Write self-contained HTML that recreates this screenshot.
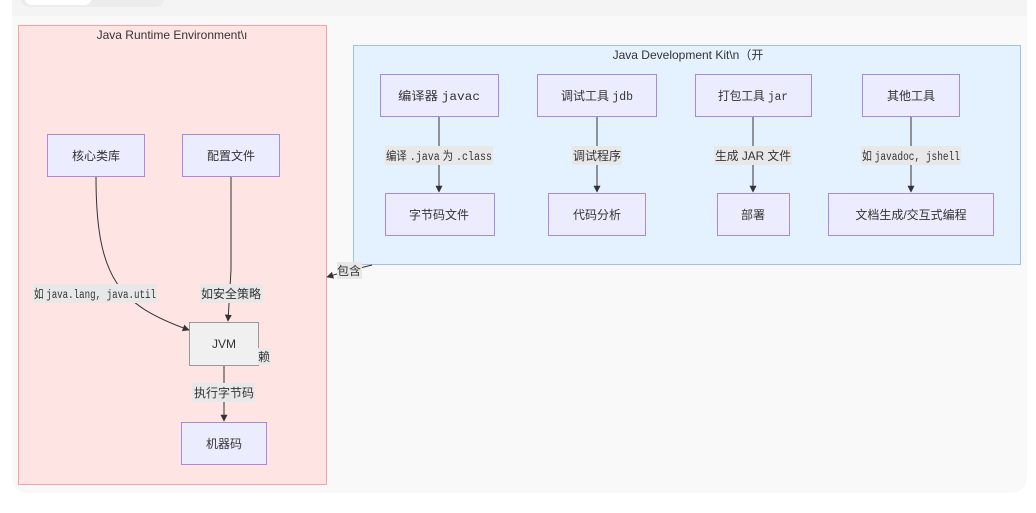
<!DOCTYPE html>
<html><head><meta charset="utf-8"><style>
html,body{margin:0;padding:0;background:#fff;width:1036px;height:513px;overflow:hidden}
svg text{font-family:"Liberation Sans","Noto Sans CJK SC",sans-serif;font-size:12px;fill:#333}
.m{font-family:"Liberation Mono","Noto Sans CJK SC",monospace;font-size:11.5px}
</style></head><body>
<svg width="1036" height="513" viewBox="0 0 1036 513" xmlns="http://www.w3.org/2000/svg">
<defs><marker id="a" viewBox="0 0 10 10" refX="9" refY="5" markerWidth="7" markerHeight="7" orient="auto"><path d="M0,0L10,5L0,10z" fill="#333"/></marker></defs>
<rect x="12" y="-20" width="1015" height="513" rx="15" fill="#f9f9f9"/>
<rect x="12" y="-20" width="1015" height="36" fill="#f4f4f4"/>
<rect x="20" y="-20" width="145" height="27" rx="10" fill="#ececec"/>
<rect x="24" y="-20" width="68" height="25" rx="8" fill="#fff"/>
<rect x="18.5" y="25.5" width="308" height="459" fill="#ffe4e4" stroke="#f9a0a0"/>
<text x="172" y="39" text-anchor="middle">Java Runtime Environment\ı</text>
<rect x="353.5" y="45.5" width="667" height="219" fill="#e4f1fe" stroke="#9cc3f0"/>
<text x="688" y="59" text-anchor="middle">Java Development Kit\n（开</text>
<g fill="#ececff" stroke="#a88be0">
<rect x="47.5" y="134.5" width="97" height="42"/>
<rect x="182.5" y="134.5" width="97" height="42"/>
<rect x="181.5" y="422.5" width="85" height="42"/>
<rect x="380.5" y="74.5" width="118" height="42"/>
<rect x="385.5" y="193.5" width="109" height="42"/>
<rect x="537.5" y="74.5" width="119" height="42"/>
<rect x="548.5" y="193.5" width="97" height="42"/>
<rect x="695.5" y="74.5" width="116" height="42"/>
<rect x="717.5" y="193.5" width="72" height="42"/>
<rect x="862.5" y="74.5" width="97" height="42"/>
<rect x="828.5" y="193.5" width="165" height="42"/>
</g>
<rect x="189.5" y="322.5" width="69" height="43" fill="#f0f0f0" stroke="#999"/>
<g stroke="#333" fill="none" stroke-width="1" marker-end="url(#a)">
<path d="M96,177 C96,280 120,305 189,330"/>
<path d="M231,177 L231,270 L228,321"/>
<path d="M224,366 L224,421"/>
<path d="M439,117 L439,192"/>
<path d="M597,117 L597,192"/>
<path d="M753,117 L753,192"/>
<path d="M911,117 L911,192"/>
<path d="M372,265 L340,273 L327,277"/>
</g>
<g fill="#e8e8e8">
<rect x="33" y="284" width="124" height="19"/>
<rect x="200" y="284" width="63" height="19"/>
<rect x="192" y="383" width="63" height="19"/>
<rect x="258" y="348" width="13" height="17"/>
<rect x="337" y="262" width="25" height="17"/>
<rect x="385" y="146" width="108" height="19"/>
<rect x="572" y="146" width="50" height="19"/>
<rect x="714" y="146" width="78" height="19"/>
<rect x="861" y="146" width="100" height="19"/>
</g>
<g text-anchor="middle">
<text x="96" y="160">核心类库</text>
<text x="231" y="160">配置文件</text>
<text x="224" y="348" fill="#555">JVM</text>
<text x="224" y="448">机器码</text>
<text x="439" y="100" textLength="82" lengthAdjust="spacingAndGlyphs">编译器 <tspan class="m">javac</tspan></text>
<text x="439" y="219">字节码文件</text>
<text x="597" y="100" textLength="72" lengthAdjust="spacingAndGlyphs">调试工具 <tspan class="m">jdb</tspan></text>
<text x="597" y="219">代码分析</text>
<text x="753" y="100" textLength="70" lengthAdjust="spacingAndGlyphs">打包工具 <tspan class="m">jar</tspan></text>
<text x="753" y="219">部署</text>
<text x="911" y="100">其他工具</text>
<text x="911" y="219">文档生成/交互式编程</text>
<text x="95" y="298" textLength="122" lengthAdjust="spacingAndGlyphs">如 <tspan class="m">java.lang, java.util</tspan></text>
<text x="231" y="298">如安全策略</text>
<text x="224" y="397">执行字节码</text>
<text x="264" y="361">赖</text>
<text x="349" y="275">包含</text>
<text x="439" y="160" textLength="106" lengthAdjust="spacingAndGlyphs">编译 <tspan class="m">.java</tspan> 为 <tspan class="m">.class</tspan></text>
<text x="597" y="160">调试程序</text>
<text x="753" y="160" textLength="76" lengthAdjust="spacingAndGlyphs">生成 JAR 文件</text>
<text x="911" y="160" textLength="98" lengthAdjust="spacingAndGlyphs">如 <tspan class="m">javadoc, jshell</tspan></text>
</g>
</svg>
</body></html>
